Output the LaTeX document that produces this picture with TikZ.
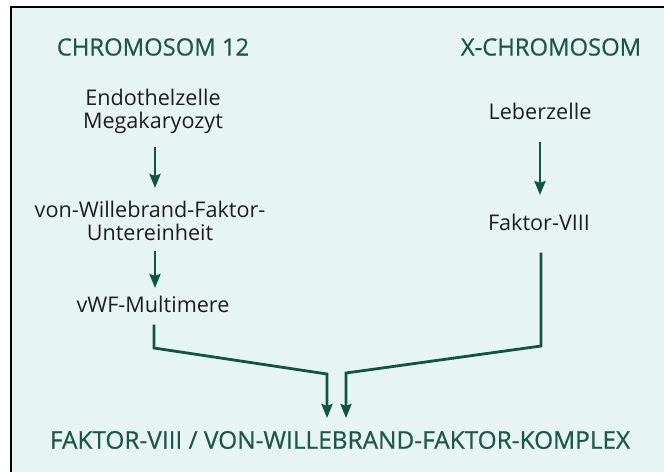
\documentclass[tikz,border=0pt]{standalone}
\usepackage{fontspec}
\setmainfont{Open Sans}
\usetikzlibrary{positioning, arrows.meta}
\definecolor{panelbg}{RGB}{231,244,244}
\definecolor{headgreen}{RGB}{28,88,74}
\definecolor{arrowgreen}{RGB}{14,86,68}
\definecolor{bodytext}{RGB}{30,30,30}
\tikzset{
    head node/.style={font=\fontsize{23.8}{27}\selectfont\addfontfeatures{FakeBold=0.6}, text=headgreen, inner sep=0pt},
    cell node/.style={font=\fontsize{21.6}{23}\selectfont, text=bodytext, align=center, inner sep=0pt},
    flow/.style={-{Stealth[width=11pt,length=14pt,inset=2pt]}, line width=2.8pt, draw=arrowgreen},
}

\begin{document}
\begin{tikzpicture}[x=1pt, y=-1pt]
    \useasboundingbox (0,0) rectangle (664,472);
    \fill[panelbg] (11,7) rectangle (664,472);
    \draw[line width=2.5pt] (11,472) -- (11,7) -- (664,7);
    % headings
    \node[head node] (chr12) at (153,47) {CHROMOSOM 12};
    \node[head node] (chrx) at (551,47) {X-CHROMOSOM};
    % left column
    \node[cell node] (endo) at (153,111) {Endothelzelle\\Megakaryozyt};
    \node[cell node] (vwfe) at (150,221) {von-Willebrand-Faktor-\\Untereinheit};
    \node[cell node] (multi) at (153,304) {vWF-Multimere};
    % right column
    \node[cell node] (leber) at (540,111) {Leberzelle};
    \node[cell node] (fviii) at (539,222) {Faktor-VIII};
    % result
    \node[head node, font=\fontsize{24.4}{27}\selectfont\addfontfeatures{FakeBold=0.6}] (komplex) at (340,440) {FAKTOR-VIII / VON-WILLEBRAND-FAKTOR-KOMPLEX};
    \coordinate (lbend) at (154,348);
    \coordinate (lfoot) at (327,374);
    \coordinate (rbend) at (541,346);
    \coordinate (rfoot) at (346,373);
    \draw[flow] (endo.south -| 155,0) ++(0,13) -- (155,188);
    \draw[flow] (vwfe.south -| 155,0) ++(0,10) -- (155,288);
    \draw[flow] (leber.south) ++(0,22) -- (540,195);
    \draw[flow] (multi.south -| lbend) ++(0,12) -- (lbend) -- (lfoot) -- (lfoot |- 0,418);
    \draw[flow] (fviii.south -| rbend) ++(0,22) -- (rbend) -- (rfoot) -- (rfoot |- 0,418);
\end{tikzpicture}
\end{document}
